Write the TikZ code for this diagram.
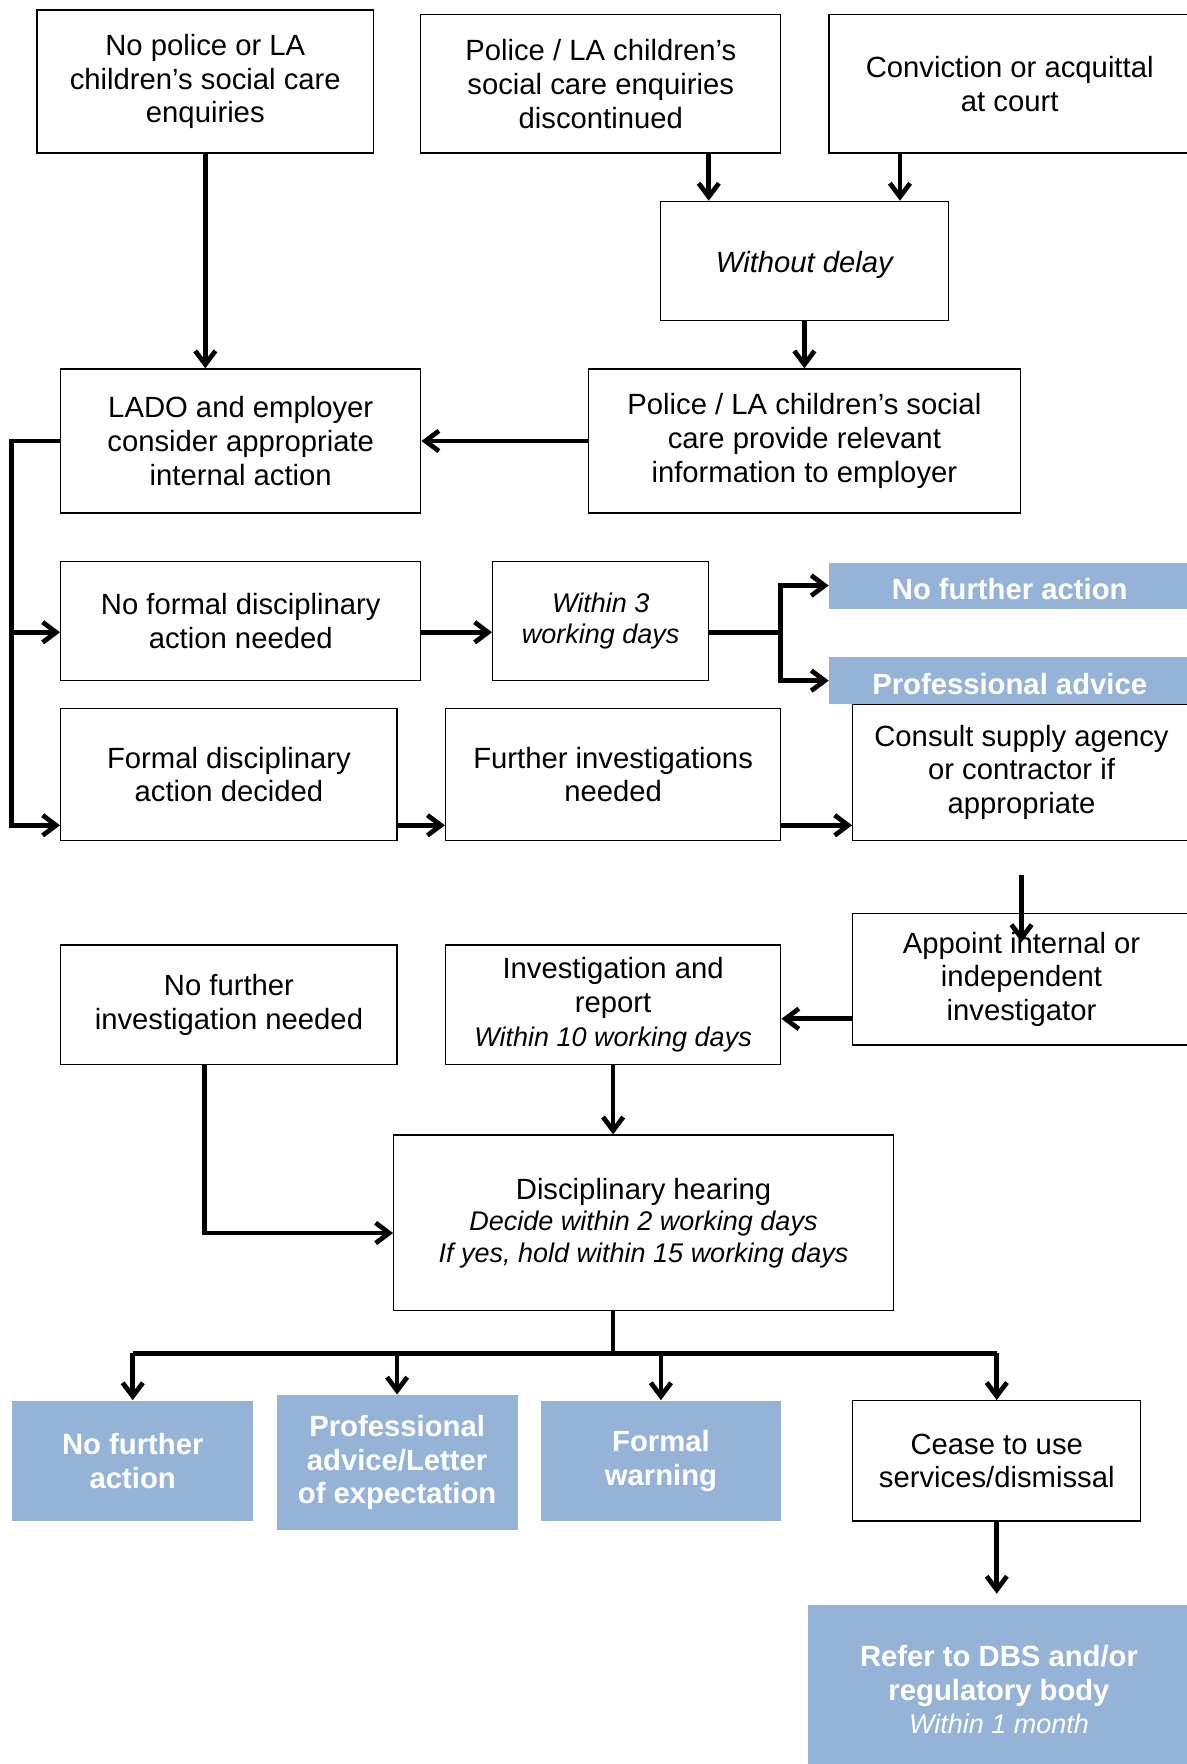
\documentclass[tikz,border=0pt]{standalone}
\usepackage{fontspec}
\setmainfont{Liberation Sans}
\usetikzlibrary{arrows.meta}
\definecolor{paleblue}{HTML}{95B3D7}
\begin{document}
\begin{tikzpicture}[x=0.5pt,y=-0.5pt,
    box/.style = {rectangle,draw=black,line width=0.6pt,align=center,inner sep=0pt,font=\fontsize{13}{15}\selectfont,execute at begin node={\rule{0pt}{12.5pt}}},
    bluebox/.style = {rectangle,fill=paleblue,text=white,align=center,inner sep=0pt,font=\fontsize{13}{15}\selectfont\bfseries,execute at begin node={\rule{0pt}{12.5pt}}},
    arr/.style = {-{Straight Barb[length=6pt,width=9pt]},line width=2.1pt},
    line/.style = {line width=2.1pt}]
\useasboundingbox (0,0) rectangle (1055,1568);
\clip (0,0) rectangle (1055,1568);
% top row
\node[box,minimum width=149.5pt,minimum height=63.5pt] (nopolice) at (182.5,72.5) {No police or LA\\children’s social care\\enquiries};
\node[box,minimum width=160pt,minimum height=61.5pt] (discont) at (534,74.5) {Police / LA children’s\\social care enquiries\\discontinued};
\node[box,minimum width=160.5pt,minimum height=61.5pt] (court) at (897.5,74.5) {Conviction or acquittal\\at court};
\node[box,minimum width=128pt,minimum height=53pt] (nodelay) at (715,232) {\itshape Without delay};
% internal action
\node[box,minimum width=160pt,minimum height=64pt] (lado) at (214,392) {LADO and employer\\consider appropriate\\internal action};
\node[box,minimum width=192pt,minimum height=64pt] (provide) at (715,392) {Police / LA children’s social\\care provide relevant\\information to employer};
\node[box,minimum width=160pt,minimum height=53pt] (noformal) at (214,552) {No formal disciplinary\\action needed};
\node[box,minimum width=96pt,minimum height=53pt,font=\fontsize{12}{13.5}\selectfont\itshape] (within3) at (534,552) {Within 3\\working days};
\node[bluebox,minimum width=160.5pt,minimum height=20.5pt] (nfaone) at (897.5,520.5) {No further action};
\node[bluebox,minimum width=160.5pt,minimum height=21pt] (adviceone) at (897.5,605) {Professional advice};
\node[box,minimum width=149.5pt,minimum height=58.5pt] (formal) at (203.5,688.5) {Formal disciplinary\\action decided};
\node[box,minimum width=149pt,minimum height=58.5pt] (furtherinv) at (545,688.5) {Further investigations\\needed};
\node[box,minimum width=150pt,minimum height=60.5pt] (consult) at (908,686.5) {Consult supply agency\\or contractor if\\appropriate};
% investigation
\node[box,minimum width=150pt,minimum height=58.5pt] (appoint) at (908,870.5) {Appoint internal or\\independent\\investigator};
\node[box,minimum width=149.5pt,minimum height=53pt] (nofurtherinv) at (203.5,893) {No further\\investigation needed};
\node[box,minimum width=149pt,minimum height=53pt] (report) at (545,893) {Investigation and\\report\\{\fontsize{12}{14}\selectfont\itshape Within 10 working days}};
\node[box,minimum width=222pt,minimum height=78pt,font=\fontsize{13}{14}\selectfont] (hearing) at (572,1087) {Disciplinary hearing\\{\fontsize{12}{14}\selectfont\itshape Decide within 2 working days}\\{\fontsize{12}{14}\selectfont\itshape If yes, hold within 15 working days}};
% outcomes
\node[bluebox,minimum width=107pt,minimum height=53.5pt] (nfatwo) at (118,1298.5) {No further\\action};
\node[bluebox,minimum width=107pt,minimum height=60pt] (letter) at (353,1300) {Professional\\advice/Letter\\of expectation};
\node[bluebox,minimum width=106.5pt,minimum height=53.5pt] (warning) at (587.5,1298.5) {Formal\\warning};
\node[box,minimum width=128pt,minimum height=53.5pt] (cease) at (886,1298.5) {Cease to use\\services/dismissal};
\node[bluebox,minimum width=170pt,minimum height=75pt] (refer) at (888,1502) {Refer to DBS and/or\\regulatory body\\{\fontsize{12}{14}\selectfont\mdseries\itshape Within 1 month}};
% connectors
\draw[arr] (nopolice.south) -- (nopolice.south |- lado.north);
\draw[arr] ([xshift=48pt]discont.south) -- ([xshift=48pt]discont.south |- nodelay.north);
\draw[arr] ([xshift=-48.75pt]court.south) -- ([xshift=-48.75pt]court.south |- nodelay.north);
\draw[arr] (nodelay.south) -- (provide.north);
\draw[arr] (provide.west) -- (lado.east);
\coordinate (spine) at ([xshift=-21.5pt]lado.west);
\draw[arr] (lado.west) -- (spine) |- ([yshift=-5pt]noformal.west);
\draw[arr] (lado.west) -- (spine) |- ([yshift=7pt]formal.south west);
\draw[arr] ([yshift=-5pt]noformal.east) -- ([yshift=-5pt]within3.west);
\coordinate (fork) at ([xshift=31.5pt,yshift=-5pt]within3.east);
\draw[line] ([yshift=-5pt]within3.east) -- (fork);
\draw[arr] (fork) |- (nfaone.west);
\draw[arr] (fork) |- (adviceone.west);
\draw[arr] ([yshift=7pt]formal.south east) -- ([yshift=7pt]furtherinv.south west);
\draw[arr] ([yshift=7pt]furtherinv.south east) -- ([yshift=7pt]consult.south west);
\draw[arr] ([yshift=-15pt]consult.south) -- ([yshift=-13pt]appoint.north);
\draw[arr] ([yshift=12pt]appoint.south west) -- ([yshift=12pt]appoint.south west -| report.east);
\draw[arr] (report.south) -- (report.south |- hearing.north);
\draw[arr] ([xshift=-10.75pt]nofurtherinv.south) |- ([yshift=-4.5pt]hearing.west);
\coordinate (hub) at (545,1203);
\draw[line] (hub |- hearing.south) -- (hub);
\draw[line] (nfatwo.north |- hub) -- (cease.north |- hub);
\foreach \n in {nfatwo,letter,warning,cease}
    \draw[arr] (\n.north |- hub) -- (\n.north);
\draw[arr,shorten >=5pt] (cease.south) -- (cease.south |- refer.north);
\end{tikzpicture}
\end{document}
